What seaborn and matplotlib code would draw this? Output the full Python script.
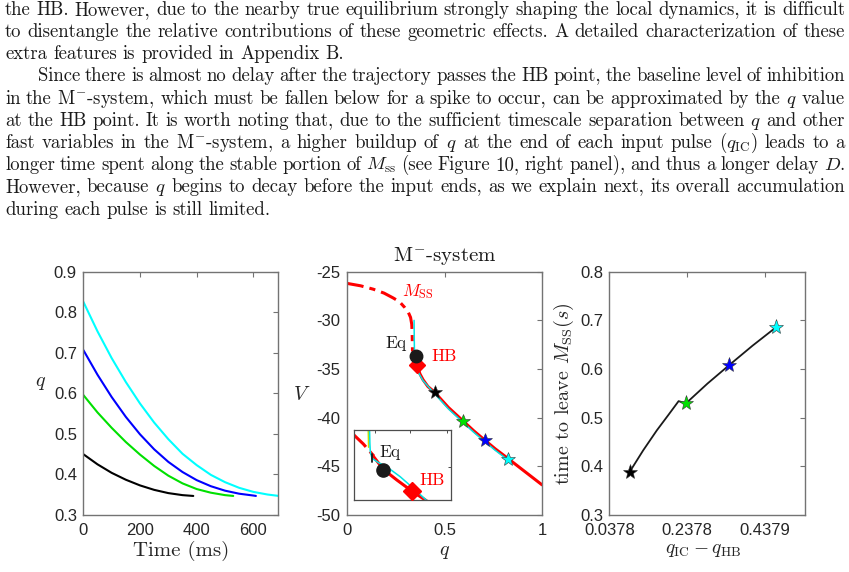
import matplotlib
matplotlib.use("Agg")
import matplotlib.pyplot as plt
import seaborn as sns

# ---------------- data ----------------
# left panel: q(t) decays
t_black = [0, 50, 100, 150, 200, 250, 300, 350, 388]
q_black = [0.450, 0.425, 0.404, 0.387, 0.373, 0.362, 0.354, 0.349, 0.347]
t_green = [0, 50, 100, 150, 200, 250, 300, 350, 400, 450, 500, 529]
q_green = [0.596, 0.553, 0.515, 0.480, 0.449, 0.421, 0.397, 0.378, 0.364, 0.355, 0.349, 0.347]
t_blue = [0, 50, 100, 150, 200, 250, 300, 350, 400, 450, 500, 550, 600, 609]
q_blue = [0.707, 0.646, 0.591, 0.542, 0.499, 0.462, 0.431, 0.406, 0.386, 0.371, 0.360, 0.3525, 0.348, 0.347]
t_cyan = [0, 50, 100, 150, 200, 250, 300, 350, 400, 450, 500, 550, 600, 650, 690]
q_cyan = [0.826, 0.753, 0.687, 0.628, 0.575, 0.528, 0.487, 0.451, 0.423, 0.399, 0.381, 0.367, 0.357, 0.3505, 0.347]

# middle panel: (q, V) plane
mss_unst_q = [0.0, 0.07, 0.135, 0.19, 0.237, 0.27, 0.297, 0.315, 0.326, 0.332, 0.334, 0.335, 0.336]
mss_unst_V = [-26.2, -26.45, -26.8, -27.2, -27.7, -28.1, -28.7, -29.2, -29.7, -30.4, -31.2, -32.2, -33.2]
mss_st_q = [0.361, 0.366, 0.374, 0.390, 0.415, 0.45, 0.52, 0.596, 0.65, 0.706, 0.76, 0.826, 0.90, 1.0]
mss_st_V = [-34.6, -35.0, -35.5, -36.1, -36.8, -37.4, -38.95, -40.35, -41.35, -42.3, -43.2, -44.2, -45.35, -46.9]
traj_q = [0.344, 0.345, 0.346, 0.350, 0.358, 0.370, 0.390, 0.45, 0.52, 0.596, 0.65, 0.706, 0.76, 0.826]
traj_V = [-30.0, -32.0, -33.4, -34.2, -34.9, -35.5, -36.2, -37.55, -39.1, -40.5, -41.5, -42.45, -43.35, -44.35]
ic_q = [0.45, 0.596, 0.706, 0.826]
ic_V = [-37.35, -40.3, -42.3, -44.2]
eq_q, eq_V = 0.354, -33.68
hb_q, hb_V = 0.361, -34.6

# inset (zoom near Eq / HB)
in_dash_q = [0.3468, 0.3491, 0.3511, 0.3518]
in_dash_V = [-32.25, -32.62, -33.01, -33.14]
in_st_q = [0.3516, 0.3540, 0.3573, 0.3610, 0.3643, 0.3660]
in_st_V = [-33.14, -33.67, -34.11, -34.57, -34.94, -35.15]
in_traj_q = [0.3506, 0.3507, 0.3508, 0.3512, 0.3528, 0.3548, 0.3581, 0.3614, 0.3645, 0.3662]
in_traj_V = [-31.90, -32.60, -32.94, -33.21, -33.39, -33.56, -33.97, -34.46, -34.94, -35.15]
in_green_q = [0.3503, 0.3504]
in_green_V = [-31.90, -32.75]
in_black_q = [0.3512, 0.3512]
in_black_V = [-33.05, -33.35]
in_eq_q, in_eq_V = 0.3540, -33.70
in_hb_q, in_hb_V = 0.3610, -34.57

# right panel
dq_curve = [0.0900, 0.125, 0.160, 0.190, 0.2159, 0.2349, 0.2900, 0.3462, 0.4060, 0.4662]
tl_curve = [0.3884, 0.433, 0.474, 0.506, 0.534, 0.5295, 0.570, 0.6082, 0.648, 0.6857]
dq_ic = [0.0900, 0.2349, 0.3462, 0.4662]
tl_ic = [0.3884, 0.5295, 0.6082, 0.6857]

star_colors = ["#000000", "#00e000", "#0000ff", "#00ffff"]

x1_ticks = [0, 200, 400, 600]
y1_ticks = [0.3, 0.4, 0.5, 0.6, 0.7, 0.8, 0.9]
y1_labels = ["0.3", "0.4", "0.5", "0.6", "0.7", "0.8", "0.9"]
x2_ticks = [0, 0.5, 1]
x2_labels = ["0", "0.5", "1"]
y2_ticks = [-50, -45, -40, -35, -30, -25]
y2_labels = ["-50", "-45", "-40", "-35", "-30", "-25"]
x3_ticks = [0.0378, 0.2378, 0.4379]
x3_labels = ["0.0378", "0.2378", "0.4379"]
y3_ticks = [0.3, 0.4, 0.5, 0.6, 0.7, 0.8]
y3_labels = ["0.3", "0.4", "0.5", "0.6", "0.7", "0.8"]

body_lines = [
    "the HB. However, due to the nearby true equilibrium strongly shaping the local dynamics, it is difficult",
    "to disentangle the relative contributions of these geometric effects. A detailed characterization of these",
    "extra features is provided in Appendix B.",
    "Since there is almost no delay after the trajectory passes the HB point, the baseline level of inhibition",
    "in the M$^{-}$-system, which must be fallen below for a spike to occur, can be approximated by the $q$ value",
    "at the HB point. It is worth noting that, due to the sufficient timescale separation between $q$ and other",
    "fast variables in the M$^{-}$-system, a higher buildup of $q$ at the end of each input pulse ($q_{\\mathrm{IC}}$) leads to a",
    "longer time spent along the stable portion of $M_{\\mathrm{ss}}$ (see Figure 10, right panel), and thus a longer delay $D$.",
    "However, because $q$ begins to decay before the input ends, as we explain next, its overall accumulation",
    "during each pulse is still limited.",
]
body_justify = [True, True, False, True, True, True, True, True, True, False]
body_indent = [False, False, False, True, False, False, False, False, False, False]

# ---------------- style ----------------
sns.set_theme(style="white")
plt.rcParams["font.family"] = ["Liberation Sans", "DejaVu Sans"]
plt.rcParams["mathtext.fontset"] = "cm"
plt.rcParams["axes.unicode_minus"] = False

W, H = 849, 572
fig = plt.figure(figsize=(W / 100, H / 100), dpi=100)
fig.patch.set_facecolor("white")

SERIF = "cmr10"
LAB = 15
ANN = 12.5
TICK = 12
SPINE = "0.45"


def px_axes(l, t, r, b):
    return fig.add_axes([l / W, 1 - b / H, (r - l) / W, (b - t) / H])


def style_axes(ax, pady=4.6, padx=6.0):
    for s in ax.spines.values():
        s.set_color(SPINE)
        s.set_linewidth(1.0)
        s.set_visible(True)
    ax.tick_params(axis="both", direction="in", top=True, right=True,
                   length=3.5, width=0.8, color=SPINE, labelsize=TICK,
                   labelcolor="#262626")
    ax.tick_params(axis="y", pad=pady)
    ax.tick_params(axis="x", pad=padx)
    ax.set_facecolor("white")
    ax.grid(False)


# ---------------- panel 1 ----------------
ax1 = px_axes(83.3, 271.7, 278.3, 515)
for tt, qq, c in [(t_black, q_black, star_colors[0]), (t_green, q_green, star_colors[1]),
                  (t_blue, q_blue, star_colors[2]), (t_cyan, q_cyan, star_colors[3])]:
    sns.lineplot(x=tt, y=qq, ax=ax1, color=c, lw=1.5, sort=False, estimator=None)
ax1.set_xlim(0, 688)
ax1.set_ylim(0.3, 0.9)
ax1.set_xticks(x1_ticks)
ax1.set_xticklabels([str(v) for v in x1_ticks])
ax1.set_yticks(y1_ticks)
ax1.set_yticklabels(y1_labels)
style_axes(ax1)
ax1.set_xlabel("Time (ms)", family=SERIF, fontsize=LAB, color="#262626")
ax1.xaxis.set_label_coords(0.5, -0.108)
ax1.set_ylabel("$q$", fontsize=14.5, rotation=0, color="#262626", va="baseline", ha="center")
ax1.yaxis.set_label_coords(-0.217, 0.530)

# ---------------- panel 2 ----------------
ax2 = px_axes(347, 271.7, 542, 515)
sns.lineplot(x=mss_unst_q, y=mss_unst_V, ax=ax2, color="#ff0000", lw=2.2,
             linestyle=(0, (5.5, 2.0, 2.0, 2.0)), sort=False, estimator=None)
sns.lineplot(x=mss_st_q, y=mss_st_V, ax=ax2, color="#ff0000", lw=2.2, sort=False, estimator=None)
sns.lineplot(x=traj_q, y=traj_V, ax=ax2, color="#00e5e5", lw=1.1, sort=False, estimator=None)
ax2.plot([eq_q], [eq_V], "o", color="k", ms=9, zorder=5)
ax2.plot([hb_q], [hb_V], "D", color="#ff0000", ms=8.5, zorder=4)
for qq, vv, c in zip(ic_q, ic_V, star_colors):
    ax2.plot([qq], [vv], "*", color=c, mec="0.2", mew=0.4, ms=10, zorder=6)
ax2.text(0.195, -32.85, "Eq", family=SERIF, fontsize=ANN, color="k", va="baseline", ha="left")
ax2.text(0.434, -34.15, "HB", family=SERIF, fontsize=ANN, color="#ff0000", va="baseline", ha="left")
ax2.text(0.28, -27.0, "$M_{\\mathrm{SS}}$", fontsize=ANN, color="#ff0000", va="center", ha="left")
ax2.set_xlim(0, 1)
ax2.set_ylim(-50, -25)
ax2.set_xticks(x2_ticks)
ax2.set_xticklabels(x2_labels)
ax2.set_yticks(y2_ticks)
ax2.set_yticklabels(y2_labels)
style_axes(ax2)
ax2.set_xlabel("$q$", fontsize=14.5, color="#262626")
ax2.xaxis.set_label_coords(0.5, -0.112)
ax2.set_ylabel("$V$", fontsize=14.5, rotation=0, color="#262626", va="baseline", ha="center")
ax2.yaxis.set_label_coords(-0.232, 0.473)
ax2.text(0.5, 1.044, "M$^{-}$-system", family=SERIF, fontsize=15, color="k",
         ha="center", va="baseline", transform=ax2.transAxes)

# inset
axi = px_axes(354, 430, 451, 500)
sns.lineplot(x=in_dash_q, y=in_dash_V, ax=axi, color="#ff0000", lw=2.2,
             linestyle=(0, (5.5, 2.0, 2.0, 2.0)), sort=False, estimator=None)
sns.lineplot(x=in_st_q, y=in_st_V, ax=axi, color="#ff0000", lw=2.2, sort=False, estimator=None)
sns.lineplot(x=in_green_q, y=in_green_V, ax=axi, color="#c8e000", lw=1.2, sort=False, estimator=None)
sns.lineplot(x=in_traj_q, y=in_traj_V, ax=axi, color="#00e5e5", lw=1.1, sort=False, estimator=None)
sns.lineplot(x=in_black_q, y=in_black_V, ax=axi, color="k", lw=1.3, sort=False, estimator=None)
axi.plot([in_eq_q], [in_eq_V], "o", color="k", ms=9.5, zorder=5)
axi.plot([in_hb_q], [in_hb_V], "D", color="#ff0000", ms=9.5, zorder=4)
axi.text(0.3530, -33.14, "Eq", family=SERIF, fontsize=ANN, color="k", va="baseline", ha="left")
axi.text(0.3629, -34.32, "HB", family=SERIF, fontsize=ANN, color="#ff0000", va="baseline", ha="left")
axi.set_xlim(0.3468, 0.3706)
axi.set_ylim(-34.94, -32.04)
axi.set_xticks([0.3520, 0.3606, 0.3696])
axi.set_yticks([-33.56])
axi.set_xticklabels([])
axi.set_yticklabels([])
for s in axi.spines.values():
    s.set_color("0.3")
    s.set_linewidth(0.9)
axi.tick_params(direction="in", top=True, right=True, length=2.5, width=0.7, color="0.3")
axi.set_facecolor("white")
axi.grid(False)

# ---------------- panel 3 ----------------
ax3 = px_axes(609.3, 271.7, 805, 515)
sns.lineplot(x=dq_curve, y=tl_curve, ax=ax3, color="k", lw=1.3, sort=False, estimator=None)
for xx, yy, c in zip(dq_ic, tl_ic, star_colors):
    ax3.plot([xx], [yy], "*", color=c, mec="0.2", mew=0.4, ms=11, zorder=6)
ax3.set_xlim(0.0378, 0.5408)
ax3.set_ylim(0.3, 0.8)
ax3.set_xticks(x3_ticks)
ax3.set_xticklabels(x3_labels)
ax3.set_yticks(y3_ticks)
ax3.set_yticklabels(y3_labels)
style_axes(ax3)
ax3.set_xlabel("$q_{\\mathrm{IC}} - q_{\\mathrm{HB}}$", fontsize=14, color="#262626")
ax3.xaxis.set_label_coords(0.48, -0.112)
ax3.set_ylabel("time to leave $M_{\\mathrm{SS}}(s)$", family=SERIF, fontsize=14.5, color="#262626")
ax3.yaxis.set_label_coords(-0.168, 0.497)

# ---------------- body text ----------------
renderer = fig.canvas.get_renderer()
LEFT, RIGHT, INDENT = 5.0, 845.0, 33.0
for i, line in enumerate(body_lines):
    ybase = 1 - (14.8 + 22.2 * i) / H
    words = line.split(" ")
    objs = [fig.text(0, ybase, w, family=SERIF, fontsize=13.5, color="k",
                     va="baseline", ha="left") for w in words]
    widths = [o.get_window_extent(renderer=renderer).width for o in objs]
    x0 = LEFT + (INDENT if body_indent[i] else 0.0)
    if body_justify[i] and len(words) > 1:
        gap = (RIGHT - x0 - sum(widths)) / (len(words) - 1)
    else:
        gap = 6.0
    x = x0
    for o, w in zip(objs, widths):
        o.set_x(x / W)
        x += w + gap

fig.savefig("out.png", dpi=100, facecolor="white")
